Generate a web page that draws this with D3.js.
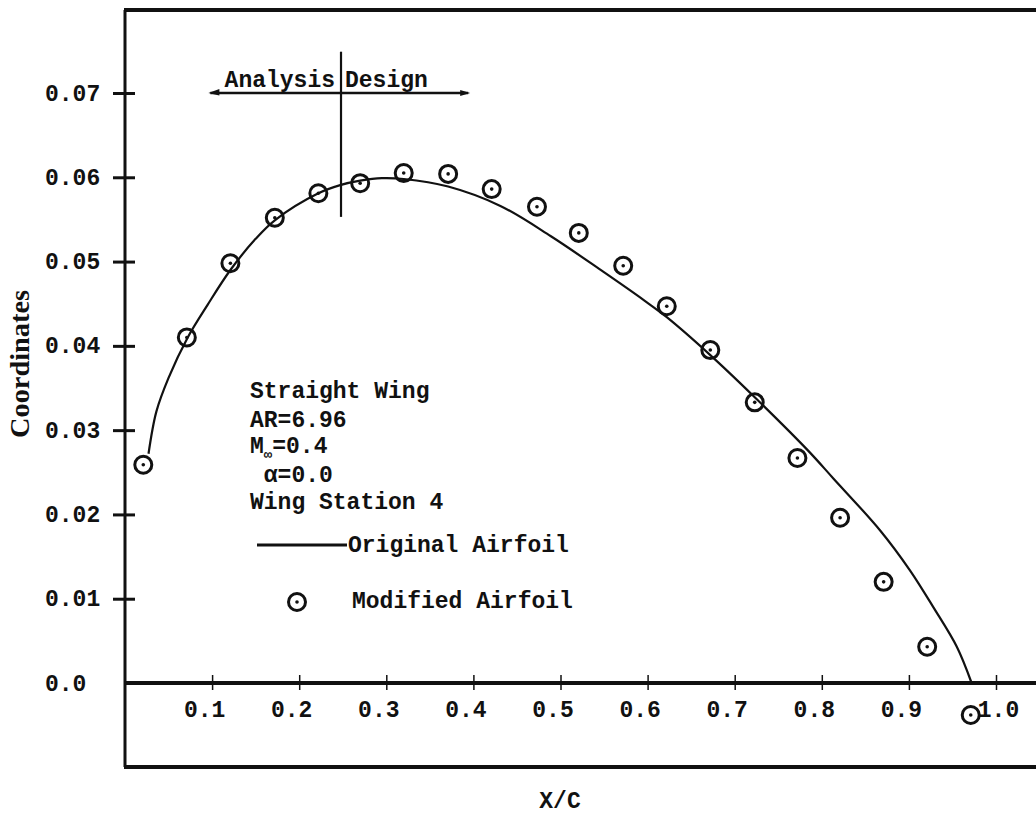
<!DOCTYPE html>
<html>
<head>
<meta charset="utf-8">
<script src="https://cdn.jsdelivr.net/npm/d3@7"></script>
<style>
  html, body { margin: 0; padding: 0; background: #fff; }
  svg { display: block; }
  text { font-family: "Liberation Mono", "DejaVu Sans Mono", monospace; font-weight: bold; fill: #111; }
</style>
</head>
<body>
<svg id="chart" width="1036" height="817"></svg>
<script>
// Axis ticks and labels
const xTicks = [0.1, 0.2, 0.3, 0.4, 0.5, 0.6, 0.7, 0.8, 0.9, 1.0];
const xTickLabels = ["0.1", "0.2", "0.3", "0.4", "0.5", "0.6", "0.7", "0.8", "0.9", "1.0"];
const yTicks = [0.0, 0.01, 0.02, 0.03, 0.04, 0.05, 0.06, 0.07];
const yTickLabels = ["0.0", "0.01", "0.02", "0.03", "0.04", "0.05", "0.06", "0.07"];

// Original airfoil upper surface (solid line)
const originalX = [0.027, 0.036, 0.050, 0.072, 0.095, 0.121, 0.150, 0.172, 0.222, 0.248,
                   0.270, 0.295, 0.320, 0.371, 0.431, 0.489, 0.549, 0.596, 0.622, 0.672,
                   0.723, 0.784, 0.813, 0.867, 0.901, 0.928, 0.955, 0.972];
const originalY = [0.0272, 0.0322, 0.0362, 0.0410, 0.0449, 0.0490, 0.0527, 0.0549, 0.0581, 0.0591,
                   0.0596, 0.0599, 0.0598, 0.0589, 0.0566, 0.0530, 0.0488, 0.0454, 0.0434, 0.0389,
                   0.0339, 0.0276, 0.0243, 0.0181, 0.0134, 0.0090, 0.0043, 0.0];

// Modified airfoil (circle-dot markers)
const modifiedX = [0.021, 0.071, 0.121, 0.172, 0.222, 0.270, 0.320, 0.371, 0.421, 0.473,
                   0.521, 0.572, 0.622, 0.672, 0.723, 0.772, 0.821, 0.871, 0.921, 0.971];
const modifiedY = [0.0259, 0.0410, 0.0498, 0.0552, 0.0581, 0.0593, 0.0605, 0.0604, 0.0586, 0.0565,
                   0.0534, 0.0495, 0.0447, 0.0395, 0.0333, 0.0267, 0.0196, 0.0120, 0.0043, -0.0038];

// Analysis / design split along the chord
const splitX = 0.248;
const splitYRange = [0.0553, 0.0749];
const arrowXRange = [0.098, 0.394];
const arrowY = 0.07;
const regionLabels = ["Analysis", "Design"];

// Case description and legend
const caseLines = ["Straight Wing", "AR=6.96", "M", " α=0.0", "Wing Station 4"];
const machSub = "∞";
const machValue = "=0.4";
const legendLabels = ["Original Airfoil", "Modified Airfoil"];
const xTitle = "X/C";
const yTitle = "Coordinates";

const W = 1036, H = 817;
const svg = d3.select("#chart");
svg.append("rect").attr("width", W).attr("height", H).attr("fill", "#fff");

const x = d3.scaleLinear().domain([0, 1]).range([125, 996]);
const y = d3.scaleLinear().domain([0, 0.07]).range([683, 93]);

const ink = "#111";
const frameTop = 10, frameBottom = 767;

// Frame: top, left, bottom borders and the zero line
const frame = svg.append("g").attr("stroke", ink).attr("fill", "none");
frame.append("line").attr("x1", x(0) - 1).attr("x2", W).attr("y1", frameTop).attr("y2", frameTop).attr("stroke-width", 4);
frame.append("line").attr("x1", x(0)).attr("x2", x(0)).attr("y1", frameTop).attr("y2", frameBottom).attr("stroke-width", 3);
frame.append("line").attr("x1", x(0) - 1).attr("x2", W).attr("y1", frameBottom).attr("y2", frameBottom).attr("stroke-width", 4);
frame.append("line").attr("x1", x(0) - 1).attr("x2", W).attr("y1", y(0)).attr("y2", y(0)).attr("stroke-width", 4);

// X axis ticks crossing the zero line
const xAxis = d3.axisBottom(x)
  .tickValues(xTicks)
  .tickFormat((d, i) => xTickLabels[i])
  .tickSize(0)
  .tickPadding(0);
const gx = svg.append("g").attr("transform", `translate(0,${y(0)})`).call(xAxis);
gx.attr("font-family", null).attr("font-size", null);
gx.select(".domain").remove();
gx.selectAll(".tick line").attr("y1", -8).attr("y2", 7).attr("stroke", ink).attr("stroke-width", 1.5);
gx.selectAll(".tick text")
  .attr("x", d => d === 1 ? 2 : -8).attr("y", 34).attr("dy", null)
  .attr("text-anchor", "middle")
  .style("font-size", "23px");

// Y axis ticks crossing the left border
const yAxis = d3.axisLeft(y)
  .tickValues(yTicks)
  .tickFormat((d, i) => yTickLabels[i])
  .tickSize(0)
  .tickPadding(0);
const gy = svg.append("g").attr("transform", `translate(${x(0)},0)`).call(yAxis);
gy.attr("font-family", null).attr("font-size", null);
gy.select(".domain").remove();
gy.selectAll(".tick line")
  .attr("x1", -12).attr("x2", 10)
  .attr("stroke", ink).attr("stroke-width", 3)
  .attr("display", d => d === 0 ? "none" : null);
gy.selectAll(".tick text")
  .attr("x", -80).attr("dy", 7)
  .attr("text-anchor", "start")
  .style("font-size", "23px");

// Original airfoil curve
const originalPts = originalX.map((d, i) => [d, originalY[i]]);
const line = d3.line().x(d => x(d[0])).y(d => y(d[1])).curve(d3.curveCatmullRom.alpha(0.5));
svg.append("path").datum(originalPts)
  .attr("d", line)
  .attr("fill", "none").attr("stroke", ink).attr("stroke-width", 2.2)
  .attr("stroke-linejoin", "round");

// Modified airfoil markers
function marker(g) {
  g.append("circle").attr("r", 8.5).attr("fill", "none").attr("stroke", ink).attr("stroke-width", 3);
  g.append("circle").attr("r", 1.8).attr("fill", ink);
}
const modifiedPts = modifiedX.map((d, i) => [d, modifiedY[i]]);
svg.append("g").selectAll("g").data(modifiedPts).join("g")
  .attr("transform", d => `translate(${x(d[0])},${y(d[1])})`)
  .each(function () { marker(d3.select(this)); });

// Analysis / Design divider and arrow
svg.append("line")
  .attr("x1", x(splitX)).attr("x2", x(splitX))
  .attr("y1", y(splitYRange[1])).attr("y2", y(splitYRange[0]))
  .attr("stroke", ink).attr("stroke-width", 2.2);
const ay = y(arrowY);
svg.append("line")
  .attr("x1", x(arrowXRange[0])).attr("x2", x(arrowXRange[1]))
  .attr("y1", ay).attr("y2", ay)
  .attr("stroke", ink).attr("stroke-width", 2.5);
svg.append("path")
  .attr("d", `M${x(arrowXRange[0]) - 2},${ay} L${x(arrowXRange[0]) + 9},${ay - 4} L${x(arrowXRange[0]) + 9},${ay + 2.5} Z`)
  .attr("fill", ink);
svg.append("path")
  .attr("d", `M${x(arrowXRange[1]) + 2},${ay} L${x(arrowXRange[1]) - 8},${ay - 3} L${x(arrowXRange[1]) - 8},${ay + 3} Z`)
  .attr("fill", ink);
svg.append("text").attr("x", x(splitX) - 6).attr("y", ay - 6).attr("text-anchor", "end")
  .style("font-size", "23px").text(regionLabels[0]);
svg.append("text").attr("x", x(splitX) + 4).attr("y", ay - 6).attr("text-anchor", "start")
  .style("font-size", "23px").text(regionLabels[1]);

// Case description block
const noteX = 250;
const noteBaselines = [398, 427, 453, 482, 509];
caseLines.forEach((t, i) => {
  const tx = svg.append("text").attr("x", noteX).attr("y", noteBaselines[i])
    .style("font-size", "23px").attr("xml:space", "preserve");
  if (t === "M") {
    tx.append("tspan").text("M");
    tx.append("tspan").attr("dy", 6).style("font-size", "14px").text(machSub);
    tx.append("tspan").attr("dy", -6).text(machValue);
  } else {
    tx.text(t);
  }
});

// Legend
const legLineY = 545;
svg.append("line").attr("x1", 257).attr("x2", 347).attr("y1", legLineY).attr("y2", legLineY)
  .attr("stroke", ink).attr("stroke-width", 3);
svg.append("text").attr("x", 348).attr("y", legLineY + 7).style("font-size", "23px").text(legendLabels[0]);
const legMarker = svg.append("g").attr("transform", "translate(297,602)");
marker(legMarker);
svg.append("text").attr("x", 352).attr("y", 608).style("font-size", "23px").text(legendLabels[1]);

// Axis titles
svg.append("text").attr("x", 560).attr("y", 808).attr("text-anchor", "middle")
  .style("font-size", "23px").text(xTitle);
svg.append("text")
  .attr("transform", "translate(29,364) rotate(-90)")
  .attr("text-anchor", "middle")
  .attr("textLength", 148).attr("lengthAdjust", "spacingAndGlyphs")
  .style("font-family", "'Liberation Serif', 'DejaVu Serif', serif")
  .style("font-size", "27px")
  .text(yTitle);
</script>
</body>
</html>
